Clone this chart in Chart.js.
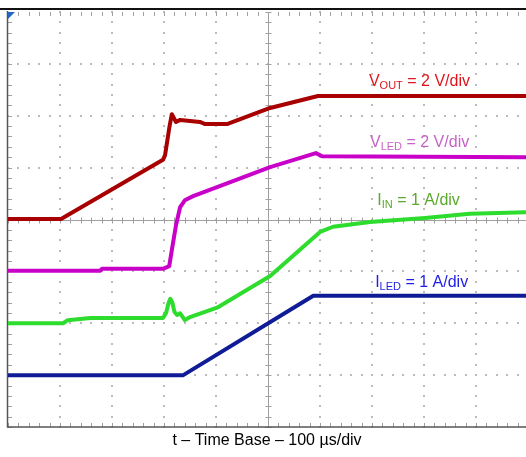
<!DOCTYPE html>
<html>
<head>
<meta charset="utf-8">
<script src="https://cdn.jsdelivr.net/npm/chart.js@4.4.0/dist/chart.umd.min.js"></script>
<style>
    html, body { margin: 0; padding: 0; background: #fff; }
    #wrap { width: 526px; height: 457px; }
</style>
</head>
<body>
<div id="wrap"><canvas id="scope" width="526" height="457"></canvas></div>
<script>
// --- Data (time in divisions of 100 us, level in divisions from screen centre) ---
const voutTime  = [0, 1.02, 2.98, 3.02, 3.10, 3.15, 3.23, 3.31, 3.69, 3.79, 4.21, 5.04, 5.96, 9.96];
const voutLevel = [0.01, 0.01, 1.15, 1.24, 1.76, 2.03, 1.88, 1.92, 1.88, 1.84, 1.84, 2.15, 2.38, 2.38];

const vledTime  = [0, 1.77, 1.81, 2.98, 3.10, 3.15, 3.23, 3.31, 3.40, 3.56, 5.04, 5.92, 6.04, 9.96];
const vledLevel = [-0.99, -0.99, -0.95, -0.95, -0.90, -0.59, -0.11, 0.24, 0.37, 0.45, 1.01, 1.28, 1.22, 1.20];

const iinTime  = [0, 1.06, 1.15, 1.58, 2.98, 3.04, 3.09, 3.12, 3.16, 3.20, 3.25, 3.31, 3.40, 3.50, 4.02, 5.04, 6.00, 6.25, 6.96, 8.02, 8.88, 9.96];
const iinLevel = [-2.0, -2.0, -1.94, -1.90, -1.90, -1.80, -1.60, -1.53, -1.60, -1.78, -1.84, -1.81, -1.94, -1.88, -1.70, -1.09, -0.24, -0.14, -0.05, 0.03, 0.11, 0.14];

const iledTime  = [0, 3.37, 5.87, 9.96];
const iledLevel = [-3.0, -3.0, -1.47, -1.47];

const xDivs = 10;
const yDivs = 8;

function toPoints(t, v) {
    return t.map((tv, i) => ({ x: tv, y: v[i] }));
}

// --- Scope graticule ---
const graticule = {
    id: 'graticule',
    beforeDatasetsDraw(chart) {
        const { ctx, chartArea: a, scales: { x, y } } = chart;
        ctx.save();

        // dotted major lines
        ctx.fillStyle = '#bcbcbc';
        for (let i = 1; i < xDivs; i++) {
            if (i === 5) continue;
            const px = Math.round(x.getPixelForValue(i));
            for (let k = 0; k <= yDivs * 5; k++) {
                const py = Math.round(y.getPixelForValue(-4 + k * 0.2));
                ctx.fillRect(px - 1, py - 1, 2, 2);
            }
        }
        for (let j = -3; j <= 3; j++) {
            if (j === 0) continue;
            const py = Math.round(y.getPixelForValue(j));
            for (let k = 0; k <= xDivs * 5; k++) {
                const px = Math.round(x.getPixelForValue(k * 0.2));
                ctx.fillRect(px - 1, py - 1, 2, 2);
            }
        }

        // centre axes with minor ticks
        const cx = Math.round(x.getPixelForValue(5)) + 0.5;
        const cy = Math.round(y.getPixelForValue(0)) + 0.5;
        ctx.strokeStyle = '#a0a0a0';
        ctx.lineWidth = 1;
        ctx.beginPath();
        ctx.moveTo(cx, a.top); ctx.lineTo(cx, a.bottom);
        ctx.moveTo(a.left, cy); ctx.lineTo(a.right, cy);
        for (let k = 0; k <= yDivs * 5; k++) {
            const py = Math.round(y.getPixelForValue(-4 + k * 0.2)) + 0.5;
            ctx.moveTo(cx - 3, py); ctx.lineTo(cx + 3, py);
        }
        for (let k = 0; k <= xDivs * 5; k++) {
            const px = Math.round(x.getPixelForValue(k * 0.2)) + 0.5;
            ctx.moveTo(px, cy - 3); ctx.lineTo(px, cy + 3);
        }
        ctx.stroke();

        // ticks along the frame
        ctx.beginPath();
        for (let k = 0; k <= xDivs * 5; k++) {
            const px = Math.round(x.getPixelForValue(k * 0.2)) + 0.5;
            ctx.moveTo(px, a.top); ctx.lineTo(px, a.top + 4);
            ctx.moveTo(px, a.bottom); ctx.lineTo(px, a.bottom - 4);
        }
        for (let k = 0; k <= yDivs * 5; k++) {
            const py = Math.round(y.getPixelForValue(-4 + k * 0.2)) + 0.5;
            ctx.moveTo(a.left, py); ctx.lineTo(a.left + 4, py);
        }
        ctx.stroke();

        // frame
        ctx.strokeStyle = '#555';
        ctx.lineWidth = 1.5;
        ctx.beginPath();
        ctx.moveTo(a.left - 0.5, a.top - 1);
        ctx.lineTo(a.left - 0.5, a.bottom);
        ctx.lineTo(a.right, a.bottom);
        ctx.stroke();

        ctx.fillStyle = '#111';
        ctx.fillRect(0, a.top - 4, chart.width, 2);

        // trigger marker
        ctx.fillStyle = '#2266c8';
        ctx.beginPath();
        ctx.moveTo(a.left, a.top);
        ctx.lineTo(a.left + 7, a.top);
        ctx.lineTo(a.left, a.top + 7);
        ctx.closePath();
        ctx.fill();

        ctx.restore();
    },
    afterDatasetsDraw(chart) {
        const { ctx, scales: { x, y } } = chart;
        ctx.save();
        ctx.textBaseline = 'alphabetic';

        function label(main, sub, rest, color, tx, ty) {
            let px = x.getPixelForValue(tx);
            const py = y.getPixelForValue(ty);
            ctx.fillStyle = color;
            ctx.font = '16px "Liberation Sans", Arial, sans-serif';
            ctx.fillText(main, px, py);
            px += ctx.measureText(main).width;
            ctx.font = '11px "Liberation Sans", Arial, sans-serif';
            ctx.fillText(sub, px, py + 3);
            px += ctx.measureText(sub).width;
            ctx.font = '16px "Liberation Sans", Arial, sans-serif';
            ctx.fillText(rest, px, py);
        }

        label('V', 'OUT', ' = 2 V/div', '#e0161c', 6.94, 2.57);
        label('V', 'LED', ' = 2 V/div', '#c862c8', 6.96, 1.40);
        label('I', 'IN', ' = 1 A/div', '#5aa82c', 7.10, 0.28);
        label('I', 'LED', ' = 1 A/div', '#1e1ee6', 7.06, -1.30);

        ctx.fillStyle = '#000';
        ctx.font = '16px "Liberation Sans", Arial, sans-serif';
        ctx.textAlign = 'center';
        ctx.fillText('t \u2013 Time Base \u2013 100 \u00b5s/div', 267, 445);
        ctx.restore();
    }
};

// --- Chart ---
const ctx = document.getElementById('scope').getContext('2d');
const traceStyle = { borderWidth: 4, pointRadius: 0, tension: 0, fill: false, borderJoinStyle: 'round' };

new Chart(ctx, {
    type: 'line',
    data: {
        datasets: [
            { label: 'VOUT', data: toPoints(voutTime, voutLevel), borderColor: '#a80000', ...traceStyle },
            { label: 'VLED', data: toPoints(vledTime, vledLevel), borderColor: '#c800c8', ...traceStyle },
            { label: 'IIN', data: toPoints(iinTime, iinLevel), borderColor: '#2edc2e', ...traceStyle },
            { label: 'ILED', data: toPoints(iledTime, iledLevel), borderColor: '#101c96', ...traceStyle }
        ]
    },
    options: {
        responsive: false,
        animation: false,
        devicePixelRatio: 1,
        layout: { padding: { left: 8, top: 12, right: 0, bottom: 30 } },
        scales: {
            x: { type: 'linear', min: 0, max: 9.96, display: false },
            y: { min: -4, max: 4, display: false }
        },
        plugins: {
            legend: { display: false },
            tooltip: { enabled: false }
        }
    },
    plugins: [graticule]
});
</script>
</body>
</html>
